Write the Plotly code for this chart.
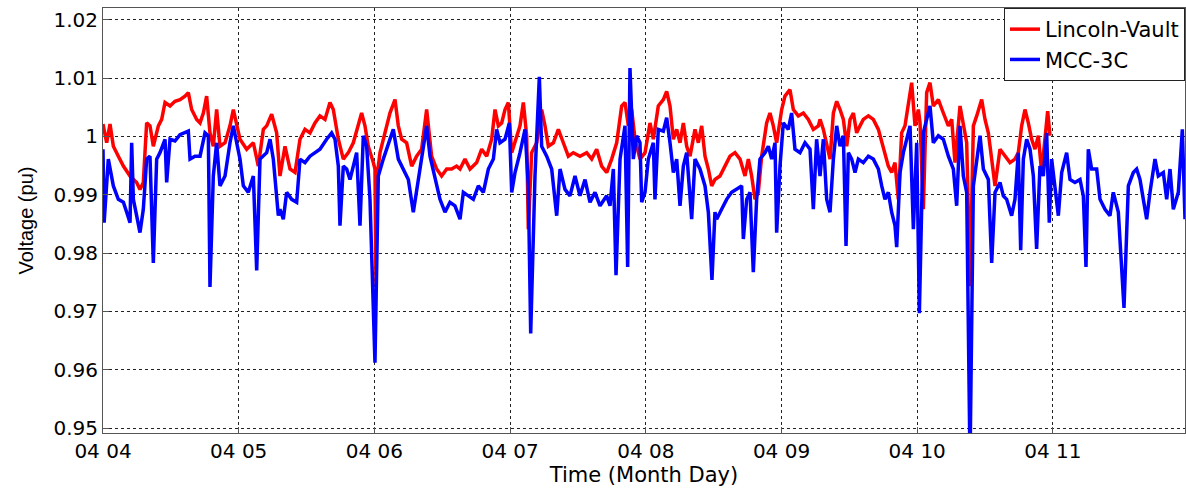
import pandas as pd
import plotly.graph_objects as go

# ---- data (hours after 04-04 00:00, voltage in pu) ----
lv_hours = [0.0, 0.65, 1.24, 1.83, 2.71, 3.6, 4.78, 5.95, 6.54, 7.13, 7.72, 8.31, 8.9, 9.79, 10.38, 10.97,
            11.85, 12.73, 13.62, 14.5, 15.09, 15.68, 16.57, 17.16, 17.75, 18.33, 18.92, 19.51, 20.1, 20.69,
            21.58, 22.46, 23.05, 23.64, 24.23, 25.41, 26.59, 27.47, 28.36, 28.95, 29.83, 30.71,
            31.3, 32.19, 33.07, 33.96, 34.84, 35.72, 36.61, 37.49, 38.37, 39.26, 40.14, 40.73, 41.62, 42.5,
            43.39, 44.27, 45.16, 45.74, 46.33, 46.92, 47.81, 48.1, 48.28, 48.4, 48.99, 49.87, 50.75, 51.64,
            52.23, 52.82, 53.7, 54.59, 55.47, 56.35, 57.24, 58.12, 59.01, 59.89, 60.78, 61.66, 62.54,
            63.14, 64.02, 64.91, 66.09, 66.97, 67.86, 68.74, 69.33, 69.92, 70.51, 71.1, 71.69, 72.28, 72.87,
            73.75, 74.34, 74.93, 75.22, 75.81, 76.7, 77.58, 78.17, 78.76, 79.65, 80.53, 81.41, 82.3, 83.18,
            84.36, 85.54, 86.43, 87.31, 88.19, 89.08, 89.96, 90.85, 91.73, 92.32, 92.91, 93.5, 94.09,
            94.97, 95.86, 96.74, 97.33, 98.21, 99.1, 99.69, 100.28, 100.87, 101.46, 102.05, 102.64, 103.23,
            103.82, 104.7, 105.29, 105.88, 106.47, 107.06, 107.65, 108.23, 109.12, 110.0, 110.89, 111.77,
            112.66, 113.54, 114.13, 114.72, 115.31, 115.9, 116.49, 117.37, 117.96, 118.55, 119.14, 120.03,
            120.61, 121.5, 122.09, 122.97, 123.86, 124.74, 125.63, 126.51,
            126.81, 127.4, 127.99, 128.58, 129.17, 129.76, 130.35, 130.94, 131.53, 132.12, 132.71, 133.29,
            133.88, 134.47, 135.36, 136.24, 137.13, 138.01, 138.89, 139.48, 140.07, 140.66, 141.25, 141.84,
            142.43, 143.02, 143.61, 144.2, 144.5, 145.08, 145.67, 146.26, 146.85, 147.74, 148.62, 149.51,
            150.1, 150.68, 151.57, 152.16, 152.75, 153.34, 153.93, 154.52, 155.4, 155.99, 156.58, 157.17,
            157.76, 158.64, 159.52, 160.41, 161.29, 161.88, 162.47, 163.06, 163.65, 164.24, 164.83, 165.42,
            166.01, 166.6, 167.07, 167.48]
lv_volts = [1.0021, 0.9989, 1.0021, 0.9983, 0.9966, 0.9949, 0.9932, 0.9921, 0.9909, 0.9921, 1.0023, 1.0018,
            0.9983, 1.0018, 1.0029, 1.0058, 1.0052, 1.0060, 1.0063, 1.0069, 1.0075, 1.0046, 1.0029, 1.0023,
            1.0040, 1.0069, 1.0006, 0.9983, 1.0046, 0.9983, 0.9989, 1.0018, 1.0046, 1.0023, 0.9995, 0.9978,
            0.9989, 0.9949, 1.0012, 1.0018, 1.0038, 1.0006,
            0.9932, 0.9983, 0.9944, 0.9938, 0.9995, 1.0012, 1.0006, 1.0023, 1.0035, 1.0029, 1.0058, 1.0046,
            0.9995, 0.9961, 0.9972, 0.9989, 1.0018, 1.0040, 1.0018, 0.9983, 0.9955, 0.9944, 0.9745, 0.9926,
            0.9972, 1.0006, 1.0040, 1.0063, 1.0018, 0.9995, 0.9989, 0.9949, 0.9966, 0.9978, 1.0046, 0.9966,
            0.9944, 0.9932, 0.9944, 0.9944, 0.9949,
            0.9944, 0.9961, 0.9944, 0.9955, 0.9978, 0.9966, 0.9995, 1.0046, 1.0018, 1.0023, 1.0046, 1.0058,
            0.9972, 0.9989, 1.0018, 1.0058, 1.0001, 0.9841, 0.9972, 0.9989, 1.0046, 1.0018, 0.9983, 0.9989,
            1.0012, 0.9989, 0.9966, 0.9972, 0.9966, 0.9972, 0.9961, 0.9978, 0.9949, 0.9938, 0.9961, 0.9989,
            1.0052, 1.0058, 1.0018, 1.0046, 0.9995,
            0.9961, 0.9972, 1.0023, 0.9995, 1.0052, 1.0063, 1.0077, 1.0052, 0.9995, 1.0012, 0.9989, 1.0023,
            0.9983, 0.9966, 1.0012, 0.9989, 1.0018, 0.9966, 0.9944, 0.9915, 0.9926, 0.9932, 0.9949, 0.9966,
            0.9972, 0.9961, 0.9932, 0.9961, 0.9932, 0.9892, 0.9904, 0.9966, 1.0023, 1.0040, 1.0018, 0.9989,
            1.0046, 1.0069, 1.0080, 1.0046, 1.0035, 1.0040, 1.0029, 1.0012, 1.0018,
            1.0029, 1.0012, 0.9989, 0.9961, 1.0040, 1.0060, 1.0046, 1.0029, 0.9983, 1.0029, 1.0040, 1.0006,
            1.0018, 1.0029, 1.0035, 1.0029, 1.0012, 0.9983, 0.9949, 0.9938, 0.9955, 0.9892, 1.0006, 1.0018,
            1.0052, 1.0092, 1.0018, 1.0046, 1.0023, 0.9875, 1.0075, 1.0092, 1.0052, 1.0063, 1.0040, 1.0018,
            1.0029, 0.9955, 1.0052, 1.0018, 0.9989, 0.9743, 1.0018, 1.0035, 1.0063, 1.0029, 1.0006, 0.9961,
            0.9915, 0.9978, 0.9966, 0.9955, 0.9961, 0.9972, 1.0018, 1.0046, 1.0023, 0.9995, 0.9978, 1.0001,
            0.9938, 0.9995, 1.0043, 1.0001]

mcc_hours = [0.0, 0.2, 0.94, 1.83, 2.71, 3.6, 4.19, 4.78, 5.07, 5.37, 5.95, 6.54, 7.13, 7.72, 8.31, 8.9,
             9.49, 10.08, 10.97, 11.26, 11.85, 12.73, 13.62, 14.5, 15.09, 15.39, 16.27, 17.16, 18.04, 18.63,
             18.92, 19.51, 20.1, 20.69, 21.58, 22.46, 23.05, 23.64, 24.23, 24.82, 25.7, 26.59, 27.18, 27.77,
             28.36, 28.95, 29.54, 30.12, 31.01,
             31.3, 31.89, 32.48, 33.37, 34.25, 34.84, 35.72, 36.61, 37.49, 38.37, 39.55, 40.44, 41.03, 41.62,
             41.91, 42.5, 43.09, 43.68, 44.27, 44.86, 45.45, 46.04, 46.63, 47.22, 48.1, 48.69, 49.57, 50.46,
             51.34, 52.23, 53.11, 54.0, 54.88, 55.47, 56.35, 57.24, 57.83, 58.71, 59.6, 60.48, 61.36, 62.25,
             63.14, 63.73, 64.61, 65.5, 66.38, 67.27, 68.15, 69.04, 69.62, 70.21, 71.1, 71.86, 72.28, 72.87,
             73.75, 74.64, 75.22, 75.64, 76.4, 77.17, 77.58, 78.47, 79.35, 80.24, 80.83, 81.71, 82.59, 83.48,
             84.36, 85.25, 86.13, 87.01, 87.9, 89.08, 89.67, 90.26, 90.73, 91.44, 92.32, 92.79, 93.2, 93.79,
             94.38,
             94.97, 95.27, 95.86, 96.44, 97.33, 97.62, 98.21, 99.1, 99.69, 100.28, 100.87, 101.46, 102.05,
             102.64, 103.23, 104.11, 104.7, 105.58, 106.47, 107.06, 107.7, 108.23, 108.53, 109.41, 110.3,
             111.18, 112.07, 112.95, 113.25, 113.84, 114.43, 115.01, 115.6, 116.19, 117.08, 117.67, 118.26,
             118.85, 119.14, 119.73, 120.32, 121.2, 121.79, 122.38, 123.27, 124.15, 125.04, 125.63, 126.21,
             126.81, 127.4, 127.99, 128.58, 129.17, 129.76, 130.35, 130.94, 131.41, 131.82, 132.41, 133.0,
             133.59, 134.47, 135.36, 136.24, 137.13, 137.72, 138.3, 138.89, 139.48, 140.07, 140.37, 140.96,
             141.55, 142.14, 142.73, 143.32, 143.91, 144.38, 145.08, 145.67, 146.26, 146.85, 147.74, 148.62,
             149.51, 150.39, 150.98, 151.57, 152.16, 152.75, 153.34, 153.93, 154.52, 155.11, 155.7, 156.58,
             157.17, 157.76,
             158.64, 159.23, 159.82, 160.7, 161.29, 161.88, 162.3, 162.77, 163.36, 163.95, 164.54, 165.12,
             165.71, 166.3, 166.89, 167.36, 167.78, 168.37, 168.96, 169.55, 170.43, 171.02, 171.9, 172.79,
             173.38, 173.85, 174.26, 174.85, 175.74, 176.33, 177.21, 178.09, 178.68, 179.57, 180.57, 181.34,
             182.22, 182.81, 183.4, 183.99, 184.58, 185.17, 186.05, 186.64, 187.53, 188.12, 188.71, 189.29,
             190.18, 190.89, 191.36]
mcc_volts = [0.9978, 0.9852, 0.9961, 0.9915, 0.9892, 0.9887, 0.9870, 0.9852, 0.9989, 0.9892, 0.9864, 0.9835,
             0.9875, 0.9961, 0.9966, 0.9783, 0.9961, 0.9972, 0.9995, 0.9921, 0.9995, 0.9992, 1.0003, 1.0006,
             1.0009, 0.9961, 0.9966, 0.9966, 1.0006, 1.0001, 0.9742, 0.9932, 0.9989, 0.9915, 0.9932, 0.9989,
             1.0018, 0.9989, 0.9961, 0.9915, 0.9904, 0.9932, 0.9770, 0.9961, 0.9966, 0.9972, 0.9995, 0.9961,
             0.9864,
             0.9875, 0.9858, 0.9904, 0.9892, 0.9887, 0.9961, 0.9955, 0.9966, 0.9972, 0.9978, 0.9995, 1.0006,
             0.9995, 0.9949, 0.9847, 0.9949, 0.9944, 0.9926, 0.9949, 0.9972, 0.9847, 1.0001, 0.9983, 0.9892,
             0.9612, 0.9932, 0.9961, 0.9989, 1.0012, 0.9961, 0.9944, 0.9926, 0.9870, 0.9909, 0.9961, 1.0018,
             0.9966, 0.9932, 0.9892, 0.9870, 0.9887, 0.9881,
             0.9858, 0.9904, 0.9898, 0.9892, 0.9915, 0.9904, 0.9944, 0.9961, 1.0012, 0.9989, 0.9995, 1.0023,
             0.9904, 0.9938, 0.9972, 1.0012, 0.9915, 0.9662, 0.9932, 1.0102, 0.9983, 0.9966, 0.9944, 0.9864,
             0.9944, 0.9909, 0.9898, 0.9932, 0.9898, 0.9926, 0.9887, 0.9904, 0.9881, 0.9898, 0.9881, 0.9944,
             0.9762, 0.9961, 1.0018, 0.9776, 1.0117, 0.9961, 1.0001,
             0.9989, 0.9887, 0.9904, 0.9961, 0.9989, 0.9892, 1.0012, 1.0009, 1.0032, 0.9989, 0.9938, 0.9961,
             0.9881, 0.9949, 0.9972, 0.9858, 0.9961, 0.9944, 0.9915, 0.9870, 0.9754, 0.9870, 0.9858, 0.9875,
             0.9892, 0.9904, 0.9909, 0.9915, 0.9824, 0.9892, 0.9904, 0.9767, 0.9892, 0.9961, 0.9972, 0.9983,
             0.9961, 0.9989, 0.9835, 0.9949, 1.0023, 1.0012, 1.0040, 0.9978, 0.9972, 0.9989, 0.9978, 0.9875,
             0.9995,
             0.9932, 0.9995, 0.9892, 0.9870, 0.9961, 1.0018, 0.9983, 1.0001, 0.9812, 0.9972, 0.9961, 0.9938,
             0.9961, 0.9955, 0.9966, 0.9961, 0.9944, 0.9915, 0.9892, 0.9904, 0.9870, 0.9847, 0.9810, 0.9938,
             0.9972, 0.9995, 1.0018, 0.9841, 0.9989, 0.9697, 1.0006, 1.0029, 1.0052, 0.9989, 1.0001, 0.9995,
             0.9966, 0.9944, 0.9881, 1.0018, 0.9932, 0.9904, 0.9440, 0.9915, 0.9961, 1.0001, 0.9944, 0.9926,
             0.9783, 0.9904,
             0.9921, 0.9898, 0.9892, 0.9864, 0.9892, 0.9972, 0.9805, 0.9961, 0.9995, 0.9978, 0.9932, 0.9807,
             0.9949, 0.9932, 1.0006, 0.9852, 0.9961, 0.9915, 0.9864, 0.9938, 0.9972, 0.9926, 0.9921, 0.9926,
             0.9898, 0.9776, 0.9978, 0.9944, 0.9944, 0.9892, 0.9875, 0.9864, 0.9904, 0.9870, 0.9706, 0.9915,
             0.9938, 0.9944, 0.9926, 0.9892, 0.9858, 0.9904, 0.9961, 0.9932, 0.9938, 0.9892, 0.9944, 0.9875,
             0.9904, 1.0012, 0.9858]

start_date = "2014-04-04"
day_ticks = ["2014-04-04", "2014-04-05", "2014-04-06", "2014-04-07",
             "2014-04-08", "2014-04-09", "2014-04-10", "2014-04-11"]
day_labels = ["04 04", "04 05", "04 06", "04 07", "04 08", "04 09", "04 10", "04 11"]
y_ticks = [0.95, 0.96, 0.97, 0.98, 0.99, 1.00, 1.01, 1.02]
y_labels = ["0.95", "0.96", "0.97", "0.98", "0.99", "1", "1.01", "1.02"]

t0 = pd.Timestamp(start_date)
lv_x = t0 + pd.to_timedelta(lv_hours, unit="h")
mcc_x = t0 + pd.to_timedelta(mcc_hours, unit="h")
x_end = t0 + pd.to_timedelta(191.36, unit="h")

WIDE = "DejaVu Sans, Verdana, sans-serif"
ARIAL = "Liberation Sans, Arial, sans-serif"

fig = go.Figure()
fig.add_trace(go.Scatter(x=lv_x, y=lv_volts, mode="lines", name="Lincoln-Vault",
                         line=dict(color="#ff0000", width=3.5)))
fig.add_trace(go.Scatter(x=mcc_x, y=mcc_volts, mode="lines", name="MCC-3C",
                         line=dict(color="#0000ff", width=3.5)))

fig.update_layout(
    width=1186, height=491,
    margin=dict(l=103, r=1, t=8, b=58),
    paper_bgcolor="white", plot_bgcolor="white",
    font=dict(family=WIDE, size=20, color="black"),
    legend=dict(x=1, y=1, xanchor="right", yanchor="top",
                bgcolor="white", bordercolor="#222", borderwidth=1,
                font=dict(family=WIDE, size=21), tracegroupgap=0),
)
fig.update_xaxes(
    range=[t0, x_end],
    tickvals=pd.to_datetime(day_ticks), ticktext=day_labels,
    showgrid=True, gridcolor="#222", griddash="3px,3px", gridwidth=1,
    showline=True, linecolor="#555", linewidth=1, mirror=True,
    ticks="inside", ticklen=6, tickcolor="#555",
    title=dict(text="Time (Month Day)", standoff=0, font=dict(family=WIDE, size=21)),
    tickfont=dict(family=WIDE, size=20), zeroline=False,
)
fig.update_yaxes(
    range=[0.94915, 1.0220],
    tickvals=y_ticks, ticktext=y_labels,
    showgrid=True, gridcolor="#222", griddash="3px,3px", gridwidth=1,
    showline=True, linecolor="#555", linewidth=1, mirror=True,
    ticks="inside", ticklen=6, tickcolor="#555",
    title=dict(text="Voltage (pu)", standoff=14, font=dict(family=ARIAL, size=20)),
    tickfont=dict(family=WIDE, size=20), zeroline=False,
)

fig.write_html("out.html")
